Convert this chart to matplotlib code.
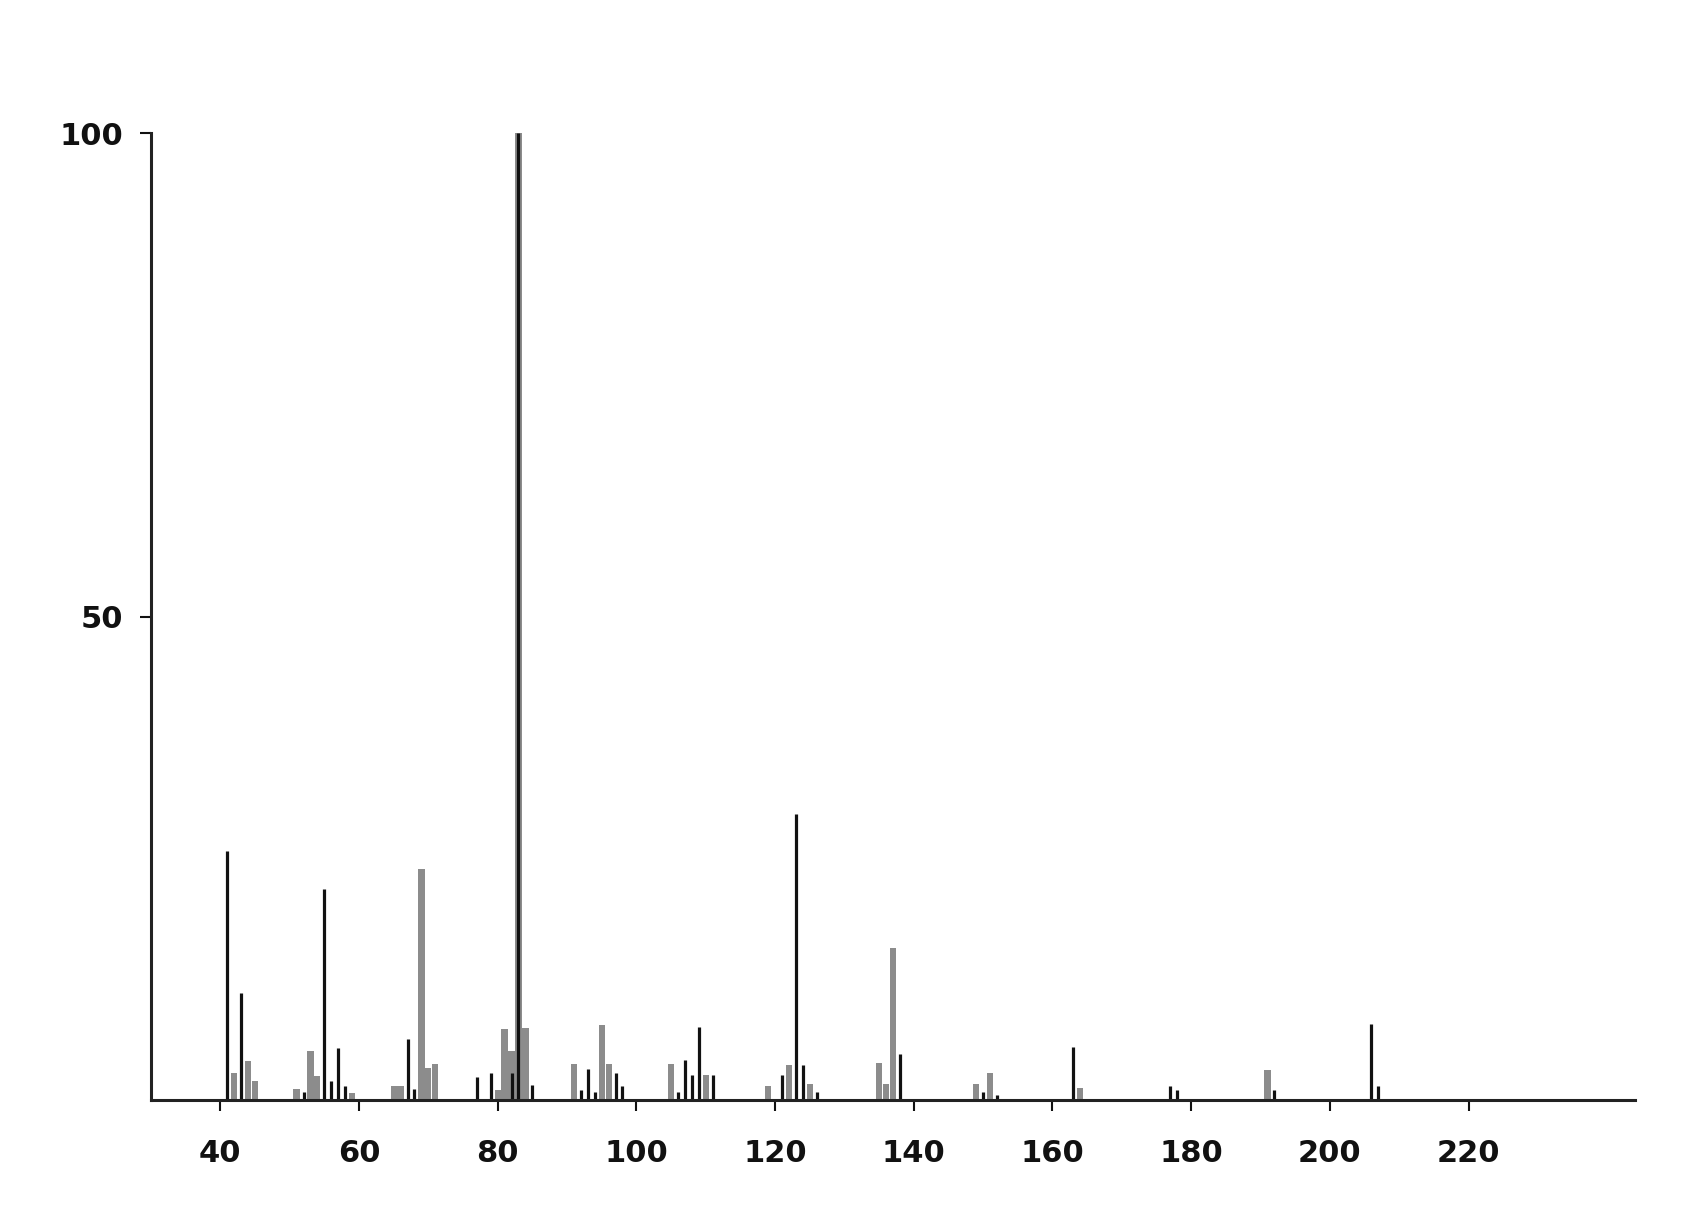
import numpy as np
import matplotlib
matplotlib.use("Agg")
import matplotlib.pyplot as plt

# m/z and relative intensity
# black (sharp) lines
black_mz = [41, 43, 52, 55, 56, 57, 58, 67, 68, 77, 79, 82, 83, 85,
            92, 93, 94, 97, 98, 106, 107, 108, 109, 111,
            121, 123, 124, 126, 138, 150, 152, 163, 177, 178, 192, 206, 207]
black_int = [25.8, 11.1, 0.8, 21.8, 2.0, 5.4, 1.4, 6.3, 1.1, 2.4, 2.8, 2.8, 100, 1.6,
             1.0, 3.2, 0.8, 2.8, 1.4, 0.8, 4.1, 2.6, 7.6, 2.6,
             2.6, 29.6, 3.6, 0.8, 4.8, 0.8, 0.5, 5.5, 1.4, 1.0, 1.0, 7.9, 1.4]

# grey (wide) bars
grey_mz = [42, 44, 45, 51, 53, 54, 59, 65, 66, 69, 70, 71, 80, 81, 82, 83, 84,
           91, 95, 96, 105, 110, 119, 122, 125, 135, 136, 137, 149, 151, 164, 191]
grey_int = [2.8, 4.0, 2.0, 1.1, 5.1, 2.5, 0.7, 1.4, 1.4, 23.9, 3.3, 3.7, 1.0, 7.3, 5.1, 100, 7.5,
            3.7, 7.8, 3.7, 3.7, 2.6, 1.4, 3.6, 1.7, 3.8, 1.7, 15.7, 1.7, 2.8, 1.2, 3.1]

xticks = [40, 60, 80, 100, 120, 140, 160, 180, 200, 220]
yticks = [50, 100]

fig = plt.figure(figsize=(16.96, 12.10), dpi=100)
ax = fig.add_axes([0.089, 0.0909, 0.875, 0.799])

ax.bar(grey_mz, grey_int, width=0.9, color='#8c8c8c', linewidth=0)
ax.vlines(black_mz, 0, black_int, color='#111111', linewidth=2.3)

ax.set_xlim(30, 244)
ax.set_ylim(0, 100)

for s in ['top', 'right']:
    ax.spines[s].set_visible(False)
for s in ['left', 'bottom']:
    ax.spines[s].set_linewidth(2.2)
    ax.spines[s].set_color('#222222')

ax.set_xticks(xticks)
ax.set_yticks(yticks)
ax.tick_params(axis='both', direction='out', length=8, width=1.5, labelsize=22, colors='#111111')
ax.tick_params(axis='x', pad=20)
ax.tick_params(axis='y', pad=12)
for lab in ax.get_xticklabels() + ax.get_yticklabels():
    lab.set_fontweight('bold')

plt.savefig('out.png', dpi=100)
